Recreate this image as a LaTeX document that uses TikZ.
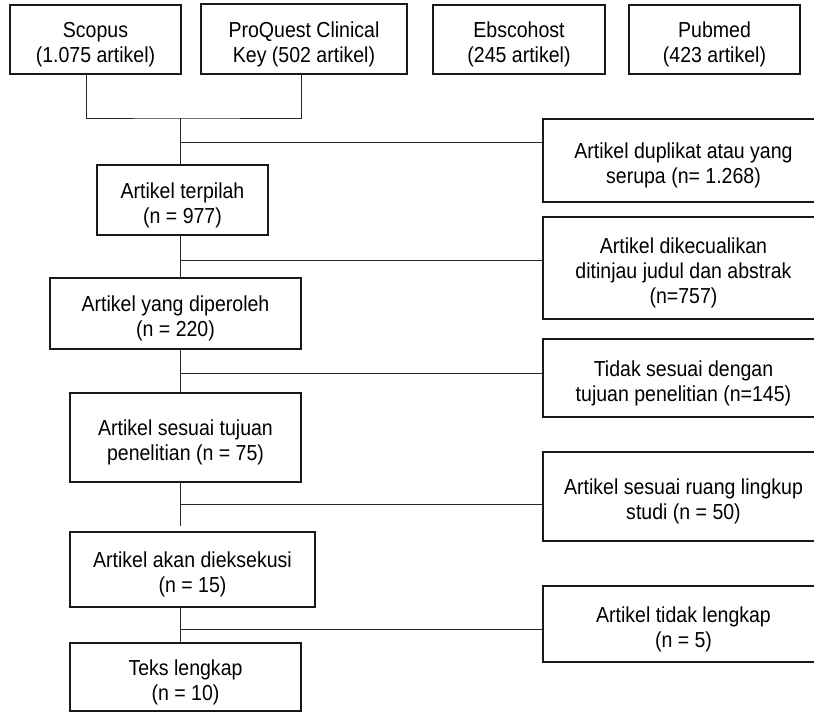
\documentclass[tikz,border=0pt]{standalone}
\usepackage{fontspec}
\setmainfont[FakeStretch=0.9]{Liberation Sans}
\usetikzlibrary{calc}

\newcommand{\lift}{\rule{0pt}{26pt}}
\tikzset{
    box/.style={draw=black!90, line width=1.6pt, align=center, inner sep=0pt,
        font=\fontsize{21.7}{25}\selectfont},
    link/.style={draw=black!85, line width=0.9pt}
}

\begin{document}
\begin{tikzpicture}[x=1pt,y=-1pt]
        \useasboundingbox (0,0) rectangle (814,712);
        \node[box,minimum width=171pt,minimum height=69pt] (scopus) at (95.5,39.5) {\lift Scopus\\(1.075 artikel)};
        \node[box,minimum width=206pt,minimum height=70pt] (proquest) at (304,39) {\lift ProQuest Clinical\\Key (502 artikel)};
        \node[box,minimum width=172pt,minimum height=69pt] (ebsco) at (519,39.5) {\lift Ebscohost\\(245 artikel)};
        \node[box,minimum width=171pt,minimum height=69pt] (pubmed) at (714.5,39.5) {\lift Pubmed\\(423 artikel)};

        \node[box,minimum width=171pt,minimum height=70pt] (terpilah) at (182.5,200) {\lift Artikel terpilah\\(n = 977)};
        \node[box,minimum width=251pt,minimum height=71pt] (diperoleh) at (175.5,313.5) {\lift Artikel yang diperoleh\\(n = 220)};
        \node[box,minimum width=231pt,minimum height=89pt] (tujuan) at (185.5,437.5) {\lift Artikel sesuai tujuan\\penelitian (n = 75)};
        \node[box,minimum width=245pt,minimum height=75pt] (eksekusi) at (192.5,569.5) {\lift Artikel akan dieksekusi\\(n = 15)};
        \node[box,minimum width=231pt,minimum height=68pt] (teks) at (185.5,677) {\lift Teks lengkap\\(n = 10)};

        \node[box,minimum width=281pt,minimum height=83pt] (duplikat) at (683.5,160.5) {\lift Artikel duplikat atau yang\\serupa (n= 1.268)};
        \node[box,minimum width=281pt,minimum height=102pt] (dikecualikan) at (683.5,268) {\lift Artikel dikecualikan\\ditinjau judul dan abstrak\\(n=757)};
        \node[box,minimum width=281pt,minimum height=78pt] (tidaksesuai) at (683.5,378) {\lift Tidak sesuai dengan\\tujuan penelitian (n=145)};
        \node[box,minimum width=281pt,minimum height=89pt] (ruang) at (683.5,496.5) {\lift Artikel sesuai ruang lingkup\\studi (n = 50)};
        \node[box,minimum width=281pt,minimum height=76pt] (tidaklengkap) at (683.5,624) {\lift Artikel tidak lengkap\\(n = 5)};

        \coordinate (join) at (180,118);
        \coordinate (b1) at (180,142);
        \coordinate (b2) at (180,260);
        \coordinate (b3) at (180,373);
        \coordinate (b4) at (180,504);
        \coordinate (b5) at (180,629);

        \draw[link] ([xshift=-9.5pt]scopus.south) |- (join) -| ([xshift=-3pt]proquest.south);
        \draw[link] (join) -- (join |- terpilah.north);
        \draw[link] (terpilah.south -| join) -- (diperoleh.north -| join);
        \draw[link] (diperoleh.south -| join) -- (tujuan.north -| join);
        \draw[link] (tujuan.south -| join) -- ($(eksekusi.north -| join)+(0,-5)$);
        \draw[link] (eksekusi.south -| join) -- (teks.north -| join);

        \draw[link] (b1) -- (b1 -| duplikat.west);
        \draw[link] (b2) -- (b2 -| dikecualikan.west);
        \draw[link] (b3) -- (b3 -| tidaksesuai.west);
        \draw[link] (b4) -- (b4 -| ruang.west);
        \draw[link] (b5) -- (b5 -| tidaklengkap.west);
\end{tikzpicture}
\end{document}
